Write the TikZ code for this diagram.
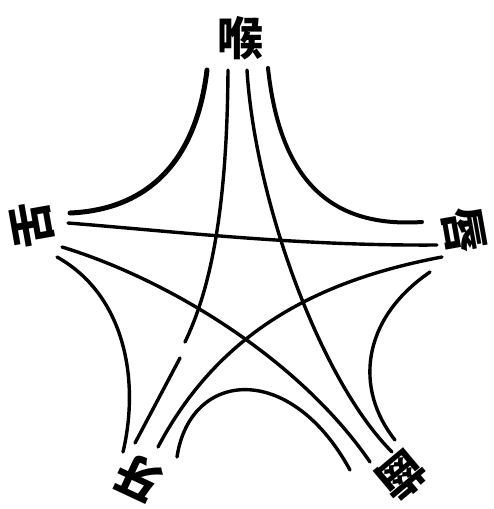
\documentclass[tikz,border=0pt]{standalone}
\usepackage{fontspec}
\newfontfamily\cjk{Noto Sans CJK TC}
\tikzset{glyph/.style={inner sep=0pt, font=\cjk\bfseries\fontsize{46}{46}\selectfont},
         stroke/.style={line width=3.4pt, line cap=round}}

\begin{document}
\begin{tikzpicture}[x=1pt,y=-1pt]
                \useasboundingbox (0,0) rectangle (494,509);
                \node[glyph] (hou) at (240,38) {喉};
                \node[glyph, rotate=-80] (chun) at (464,230) {唇};
                \node[glyph, rotate=-140] (chi) at (402,476) {齒};
                \node[glyph, rotate=155] (ya) at (139,478) {牙};
                \node[glyph, rotate=100] (she) at (32,225) {舌};

                \draw[stroke, line width=5pt] (207,70) .. controls (195,170) and (140,210) .. (70,213);
                \draw[stroke, line width=4pt] (268,68) .. controls (280,180) and (330,228) .. (422,222);
                \draw[stroke] (57,257) .. controls (125,295) and (140,380) .. (123,452);
                \draw[stroke] (430,272) .. controls (360,320) and (355,390) .. (395,440);
                \draw[stroke] (177,457) .. controls (190,370) and (290,360) .. (350,470);

                \draw[stroke] (228,70) .. controls (227,230) and (205,300) .. (185,342);
                \draw[stroke] (180,358) -- (135,443);
                \draw[stroke] (247,70) .. controls (255,200) and (320,380) .. (392,452);
                \draw[stroke] (68,223) .. controls (180,232) and (300,246) .. (437,245);
                \draw[stroke] (442,257) .. controls (320,280) and (220,330) .. (158,447);
                \draw[stroke] (62,247) .. controls (170,280) and (300,360) .. (370,462);
            \end{tikzpicture}
\end{document}
